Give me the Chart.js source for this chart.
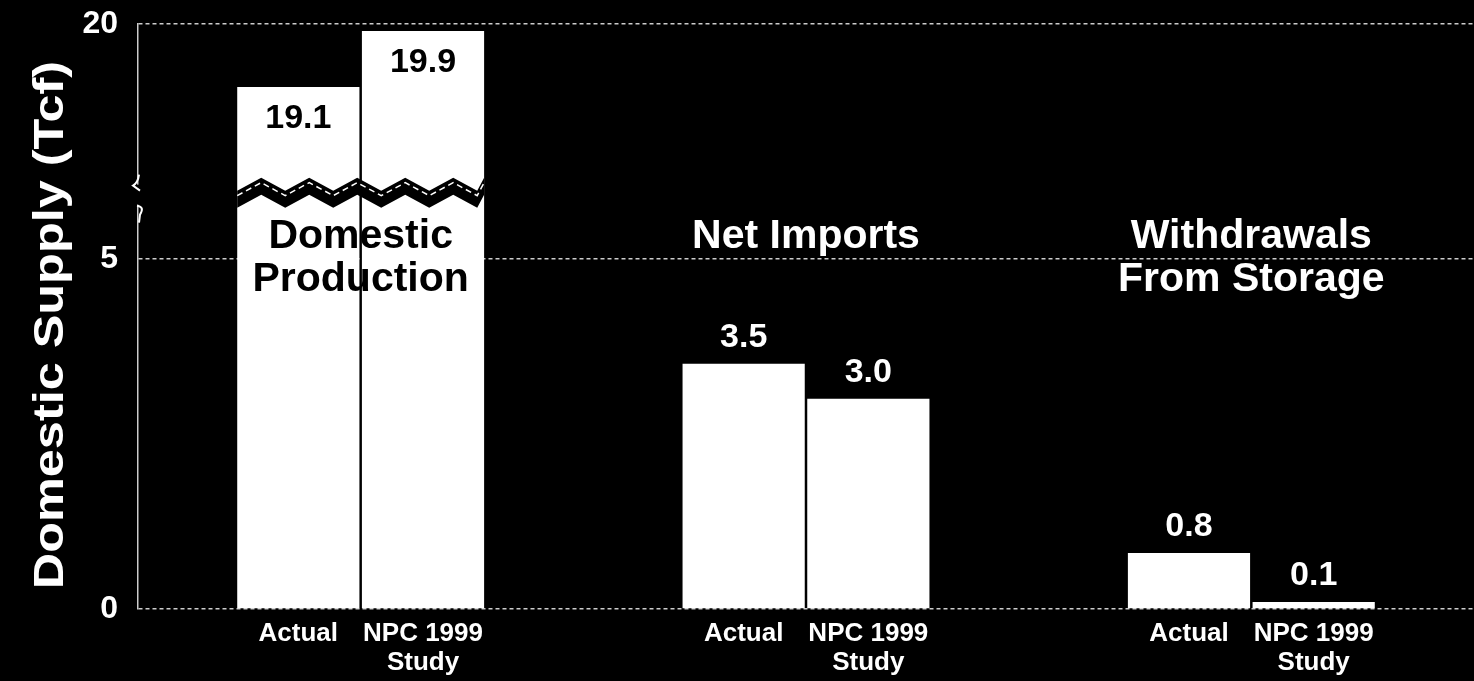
<!DOCTYPE html>
<html lang="en">
<head>
<meta charset="utf-8">
<title>Domestic Supply (Tcf)</title>
<script src="https://cdn.jsdelivr.net/npm/chart.js@4.4.1/dist/chart.umd.min.js"></script>
<style>
  html, body { margin: 0; padding: 0; background: #000; }
  .chart-area { position: relative; width: 1474px; height: 681px; }
</style>
</head>
<body>
<div class="chart-area">
  <canvas id="supply-chart"></canvas>
</div>
<script>
  const groupNames = [['Domestic', 'Production'], ['Net Imports'], ['Withdrawals', 'From Storage']];
  const seriesNames = [['Actual'], ['NPC 1999', 'Study']];
  const actualValues = [19.1, 3.5, 0.8];
  const studyValues = [19.9, 3.0, 0.1];
  const yTickValues = [0, 5, 20];
  const yTickLabels = ['0', '5', '20'];

  // broken axis : everything between BREAK_LOW and BREAK_HIGH is cut out
  const BREAK_LOW = 6;
  const BREAK_HIGH = 17.65;
  const GAP = BREAK_HIGH - BREAK_LOW;

  const FONT = '"Liberation Sans", Arial, sans-serif';

  function toAxis(v) {
    return v > BREAK_LOW ? v - GAP : v;
  }

  const labelPlugin = {
    id: 'supplyLabels',
    afterDatasetsDraw(chart) {
      const ctx = chart.ctx;
      const xs = chart.scales.x;
      const ys = chart.scales.y;
      const area = chart.chartArea;
      const series = [actualValues, studyValues];
      const yBreak = ys.getPixelForValue(BREAK_LOW);

      ctx.save();

      // zigzag cut across the tall bars
      const a = chart.getDatasetMeta(0).data[0];
      const b = chart.getDatasetMeta(1).data[0];
      const left = a.x - a.width / 2;
      const right = b.x + b.width / 2;
      const pts = [];
      for (let x = left, i = 0; x <= right + 24; x += 24, i++) {
        pts.push([Math.min(x, right), yBreak - 4 + (i % 2 === 0 ? 6 : -7)]);
      }
      ctx.beginPath();
      pts.forEach((p, i) => i === 0 ? ctx.moveTo(p[0], p[1]) : ctx.lineTo(p[0], p[1]));
      for (let i = pts.length - 1; i >= 0; i--) ctx.lineTo(pts[i][0], pts[i][1] + 17);
      ctx.closePath();
      ctx.fillStyle = '#000';
      ctx.fill();
      ctx.beginPath();
      pts.forEach((p, i) => i === 0 ? ctx.moveTo(p[0], p[1] + 5) : ctx.lineTo(p[0], p[1] + 5));
      ctx.strokeStyle = '#fff';
      ctx.lineWidth = 1.5;
      ctx.setLineDash([6, 4]);
      ctx.stroke();
      ctx.setLineDash([]);

      // break mark on the y axis
      ctx.fillStyle = '#000';
      ctx.fillRect(area.left - 4, yBreak - 4, 8, 20);
      ctx.strokeStyle = '#fff';
      ctx.lineWidth = 2;
      ctx.beginPath();
      ctx.moveTo(area.left + 1, yBreak - 14);
      ctx.quadraticCurveTo(area.left, yBreak - 6, area.left - 5, yBreak - 3);
      ctx.lineTo(area.left + 2, yBreak + 2);
      ctx.moveTo(area.left - 1, yBreak + 17);
      ctx.quadraticCurveTo(area.left + 7, yBreak + 18, area.left + 2, yBreak + 26);
      ctx.lineTo(area.left + 1, yBreak + 34);
      ctx.stroke();

      // values on the bars
      ctx.textAlign = 'center';
      ctx.textBaseline = 'middle';
      ctx.font = 'bold 34px ' + FONT;
      series.forEach((values, d) => {
        chart.getDatasetMeta(d).data.forEach((el, i) => {
          const v = values[i];
          if (v > BREAK_LOW) {
            ctx.fillStyle = '#000';
            ctx.fillText(v.toFixed(1), el.x, el.y + 32);
          } else {
            ctx.fillStyle = '#fff';
            ctx.fillText(v.toFixed(1), el.x, el.y - 26);
          }
        });
      });

      // series names under each bar
      ctx.font = 'bold 26px ' + FONT;
      ctx.fillStyle = '#fff';
      seriesNames.forEach((lines, d) => {
        chart.getDatasetMeta(d).data.forEach((el) => {
          lines.forEach((t, k) => ctx.fillText(t, el.x, area.bottom + 25 + k * 29));
        });
      });

      // group titles
      ctx.font = 'bold 41px ' + FONT;
      ctx.textBaseline = 'alphabetic';
      groupNames.forEach((lines, i) => {
        const x = xs.getPixelForValue(i);
        ctx.fillStyle = i === 0 ? '#000' : '#fff';
        lines.forEach((t, k) => ctx.fillText(t, x, area.top + 224 + k * 43));
      });

      // y axis title
      ctx.translate(63, 325);
      ctx.rotate(-Math.PI / 2);
      ctx.scale(1.2, 1);
      ctx.font = 'bold 42px ' + FONT;
      ctx.fillStyle = '#fff';
      ctx.fillText('Domestic Supply (Tcf)', 0, 0);

      ctx.restore();
    }
  };

  const chartData = {
    labels: groupNames,
    datasets: [{
        label: 'Actual',
        data: actualValues.map(toAxis),
        backgroundColor: '#fff',
        borderWidth: 0,
        categoryPercentage: 0.56,
        barPercentage: 0.98,
      }, {
        label: 'NPC 1999 Study',
        data: studyValues.map(toAxis),
        backgroundColor: '#fff',
        borderWidth: 0,
        categoryPercentage: 0.56,
        barPercentage: 0.98,
      }
    ]
  };

  const barConfig = {
    type: 'bar',
    data: chartData,
    options: {
      maintainAspectRatio: false,
      animation: false,
      layout: {
        padding: { top: 24, right: 0, bottom: 0, left: 0 }
      },
      plugins: {
        legend: { display: false },
        tooltip: { enabled: false },
        title: { display: false },
      },
      scales: {
        x: {
          grid: { display: false },
          border: { display: false },
          ticks: { display: false },
          afterFit(scale) { scale.height = 72; },
        },
        y: {
          min: 0,
          max: toAxis(20),
          afterFit(scale) {
            scale.width = 138;
            scale.paddingTop = 0;
            scale.paddingBottom = 0;
          },
          afterBuildTicks(scale) {
            scale.ticks = yTickValues.map(v => ({ value: toAxis(v) }));
          },
          ticks: {
            color: '#fff',
            padding: 20,
            font: { family: FONT, size: 32, weight: 'bold' },
            callback: (value, index) => yTickLabels[index],
          },
          grid: {
            color: 'rgba(255, 255, 255, 0.8)',
            lineWidth: 1.5,
            drawTicks: false,
          },
          border: {
            display: true,
            color: 'rgba(255, 255, 255, 0.8)',
            width: 1.5,
            dash: [4, 3],
          },
        }
      }
    },
    plugins: [labelPlugin],
  };

  window.onload = function () {
    const ctx = document.getElementById('supply-chart').getContext('2d');
    window.chart1 = new Chart(ctx, barConfig);
  };
</script>
</body>
</html>
